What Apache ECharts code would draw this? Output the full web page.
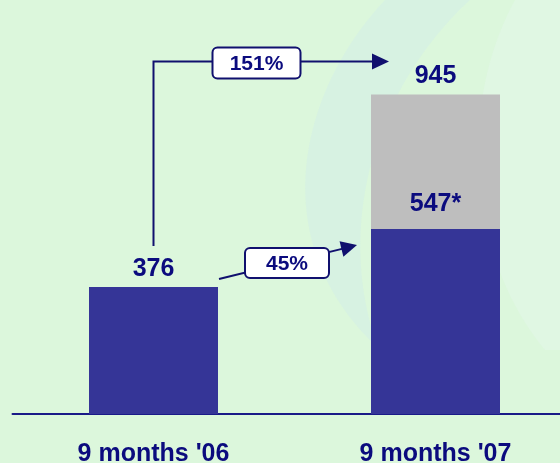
<!DOCTYPE html>
<html>
<head>
<meta charset="utf-8">
<script src="https://cdn.jsdelivr.net/npm/echarts@6/dist/echarts.min.js"></script>
<style>
  html, body { margin: 0; padding: 0; background: #DCF7DC; }
  #chart { width: 560px; height: 463px; }
</style>
</head>
<body>
<div id="chart"></div>
<script>
// Periods on the category axis
const categories = ["9 months '06", "9 months '07"];
// Base volume for each period (blue)
const baseValues = [376, 547];
// Additional volume on top of the base (grey), none in 2006
const addedValues = ['-', 398];
// Totals shown above each bar
const totalValues = [376, 945];
// Value label text for the base segments
const baseLabels = ['376', '547*'];
// Growth rates shown in the arrow boxes
const growthTotal = '151%';
const growthBase = '45%';

const NAVY = '#0B0B7E';
const LINE = '#10106E';
const BLUE = '#353597';
const GREY = '#BEBEBE';
const FONT = '"Liberation Sans", Arial, sans-serif';

const chart = echarts.init(document.getElementById('chart'), null, { renderer: 'canvas' });

const option = {
  backgroundColor: '#DCF7DC',
  animation: false,
  grid: { left: 12.5, width: 564, top: 76, bottom: 49, containLabel: false, outerBoundsMode: 'none' },
  xAxis: {
    type: 'category',
    data: categories,
    axisLine: { show: true, lineStyle: { color: '#1A1A88', width: 2 } },
    axisTick: { show: false },
    axisLabel: {
      color: NAVY, fontFamily: FONT, fontWeight: 'bold', fontSize: 25,
      margin: 28
    }
  },
  yAxis: {
    type: 'value', min: 0, max: 1000,
    show: false, splitLine: { show: false }
  },
  series: [
    {
      name: 'base', type: 'bar', stack: 'vol', barWidth: 129,
      itemStyle: { color: BLUE },
      data: baseValues.map((v, i) => ({
        value: v,
        label: {
          show: true, position: 'top', distance: i === 0 ? 5 : 13,
          formatter: baseLabels[i],
          color: NAVY, fontFamily: FONT, fontWeight: 'bold', fontSize: 25
        }
      }))
    },
    {
      name: 'added', type: 'bar', stack: 'vol', barWidth: 129,
      itemStyle: { color: GREY },
      data: addedValues.map((v, i) => ({
        value: v,
        label: {
          show: v !== '-', position: 'top', distance: 6,
          formatter: String(totalValues[i]),
          color: NAVY, fontFamily: FONT, fontWeight: 'bold', fontSize: 25
        }
      }))
    }
  ]
};
chart.setOption(option);

// Arrow annotations placed from the bars' pixel positions
function px(i, v) { return chart.convertToPixel({ xAxisIndex: 0, yAxisIndex: 0 }, [i, v]); }
const halfW = 64.5;
const p0 = px(0, totalValues[0]);      // top of first bar
const p1top = px(1, totalValues[1]);   // top of second bar
const p1base = px(1, baseValues[1]);   // top of blue part of second bar

function arrowHead(tx, ty, fx, fy, len, half) {
  const dx = tx - fx, dy = ty - fy;
  const d = Math.sqrt(dx * dx + dy * dy);
  const ux = dx / d, uy = dy / d;
  const bx = tx - ux * len, by = ty - uy * len;
  return {
    type: 'polygon', z: 10,
    shape: { points: [[tx, ty], [bx - uy * half, by + ux * half], [bx + uy * half, by - ux * half]] },
    style: { fill: LINE }
  };
}
function box(cx, cy, w, h, text) {
  return {
    type: 'group',
    children: [
      { type: 'rect', z: 11, shape: { x: cx - w / 2, y: cy - h / 2, width: w, height: h, r: 5 },
        style: { fill: '#FFFFFF', stroke: LINE, lineWidth: 2 } },
      { type: 'text', z: 12, style: { x: cx, y: cy + 1, text: text, align: 'center', verticalAlign: 'middle',
        fill: NAVY, font: 'bold 21px ' + FONT } }
    ]
  };
}

// Sample a cubic curve into polygon points for the background swoosh
function cubic(p0, p1, p2, p3, n) {
  const pts = [];
  for (let k = 0; k <= n; k++) {
    const u = k / n, v = 1 - u;
    pts.push([
      v * v * v * p0[0] + 3 * v * v * u * p1[0] + 3 * v * u * u * p2[0] + u * u * u * p3[0],
      v * v * v * p0[1] + 3 * v * v * u * p1[1] + 3 * v * u * u * p2[1] + u * u * u * p3[1]
    ]);
  }
  return pts;
}
const swooshA = cubic([385, 0], [300, 90], [262, 240], [378, 348], 40)
  .concat(cubic([378, 348], [335, 230], [372, 90], [470, 0], 40));
const swooshB = cubic([515, 0], [455, 110], [470, 260], [545, 350], 40)
  .concat([[560, 350], [560, 0]]);

// 151%: up from first bar, across to second bar
const vx = p0[0];
const vBottom = p0[1] - 41;
const hy = p1top[1] - 33;
const tipX = p1top[0] - halfW + 18;
// 45%: from first bar's right edge to the second bar's blue part
const s = [p0[0] + halfW + 1, p0[1] - 8];
const t = [p1base[0] - halfW - 14, p1base[1] + 16];

chart.setOption({
  graphic: [
    { type: 'polygon', z: -5, silent: true, shape: { points: swooshA }, style: { fill: 'rgba(208,236,236,0.4)' } },
    { type: 'polygon', z: -5, silent: true, shape: { points: swooshB }, style: { fill: 'rgba(228,247,236,0.45)' } },
    { type: 'polyline', z: 10, shape: { points: [[vx, vBottom], [vx, hy], [tipX - 14, hy]] },
      style: { stroke: LINE, lineWidth: 2, fill: null } },
    arrowHead(tipX, hy, vx, hy, 17, 8),
    box(vx + 103, hy + 1.5, 88, 31, growthTotal),
    { type: 'line', z: 10, shape: { x1: s[0], y1: s[1], x2: t[0] - 12, y2: t[1] + 3 },
      style: { stroke: LINE, lineWidth: 2 } },
    arrowHead(t[0], t[1], s[0], s[1], 16, 8),
    box((s[0] + t[0]) / 2 - 1, (s[1] + t[1]) / 2 + 1, 84, 30, growthBase)
  ]
});
</script>
</body>
</html>
